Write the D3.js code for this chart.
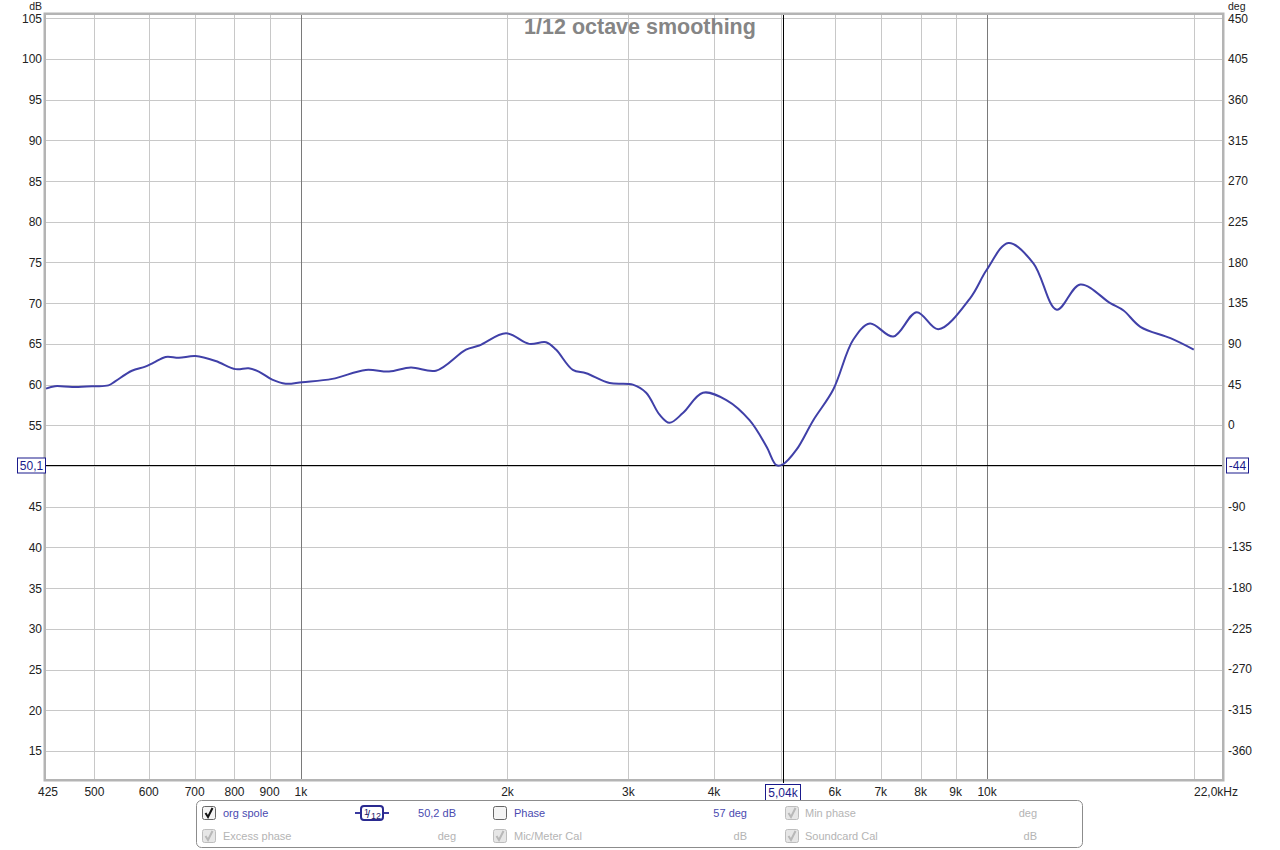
<!DOCTYPE html>
<html><head><meta charset="utf-8">
<script src="https://cdn.jsdelivr.net/npm/d3@7"></script>
<style>
html,body{margin:0;padding:0;background:#fff;}
svg{display:block;font-family:"Liberation Sans",Arial,sans-serif;}
</style></head>
<body><svg id="c" width="1280" height="850"></svg>
<script>
// ---- data ----
const freqs = [425,438,464,496,524,536,567,593,610,635,664,702,751,803,839,868,908,950,1004,1111,1243,1344,1446,1573,1740,1819,1990,2151,2276,2353,2490,2604,2817,3046,3185,3332,3444,3603,3853,4169,4509,4769,4932,5040,5275,5579,5968,6381,6750,7300,7897,8489,9446,9989,10742,11683,12637,13670,15120,15810,16727,18503,20010];
const dbs   = [59.5,59.8,59.7,59.8,59.9,60.4,61.7,62.2,62.7,63.4,63.3,63.5,62.9,61.9,62.0,61.6,60.6,60.1,60.3,60.7,61.8,61.6,62.1,61.7,64.3,64.8,66.3,65.0,65.2,64.3,61.8,61.4,60.2,60.0,59.0,56.3,55.3,56.5,59.0,58.1,55.6,52.4,50.1,50.2,52.0,55.6,59.4,65.5,67.5,65.9,68.9,66.8,70.6,74.1,77.4,74.9,69.2,72.3,70.0,69.1,67.1,65.7,64.3];
const xGrid = [500,600,700,800,900,1000,2000,3000,4000,5000,6000,7000,8000,9000,10000,20000];
const xMajor = [1000,10000];
const xTickVals = [425,500,600,700,800,900,1000,2000,3000,4000,6000,7000,8000,9000,10000];
const xTickLabels = ["425","500","600","700","800","900","1k","2k","3k","4k","6k","7k","8k","9k","10k"];
const dbTicks = [15,20,25,30,35,40,45,50,55,60,65,70,75,80,85,90,95,100,105];
const degTicks = [-360,-315,-270,-225,-180,-135,-90,-44,0,45,90,135,180,225,270,315,360,405,450];
const xDomain = [425,22000];
const cursorFreq = 5040, cursorDb = 50.1;
const title = "1/12 octave smoothing";

// ---- layout ----
const L=46, R=1222, T=15, B=779;
const svg = d3.select("#c");
const x = d3.scaleLog().domain(xDomain).range([L,R]);
const y = d3.scaleLinear().domain([11.55,105.4]).range([B,T]);
const yDeg = d3.scaleLinear().domain([-391.95,453.6]).range([B,T]); // deg = (dB-55)*9

// frame shadow
svg.append("rect").attr("x",L-1).attr("y",T-1).attr("width",R-L+2).attr("height",B-T+2)
  .attr("fill","#fff").attr("stroke","#b4b4b4").attr("stroke-width",3);
svg.append("rect").attr("x",L).attr("y",T).attr("width",R-L).attr("height",B-T).attr("fill","#fff");

// grid
const g = svg.append("g");
g.selectAll("line.h").data(dbTicks).join("line")
  .attr("x1",L).attr("x2",R).attr("y1",d=>Math.round(y(d))+0.5).attr("y2",d=>Math.round(y(d))+0.5)
  .attr("stroke","#c8c8c8").attr("stroke-width",1);
g.selectAll("line.v").data(xGrid).join("line")
  .attr("y1",T).attr("y2",B).attr("x1",d=>Math.round(x(d))+0.5).attr("x2",d=>Math.round(x(d))+0.5)
  .attr("stroke",d=>xMajor.includes(d)?"#7a7a7a":"#c8c8c8").attr("stroke-width",1);

// title
svg.append("text").attr("x",640).attr("y",34).attr("text-anchor","middle")
  .attr("font-size",21.5).attr("font-weight","bold").attr("fill","#858585").text(title);

// axis labels
const fs=12;
svg.append("text").attr("x",42).attr("y",9.6).attr("text-anchor","end").attr("font-size",10.5).attr("fill","#222").text("dB");
svg.append("text").attr("x",1228).attr("y",9.6).attr("font-size",10.5).attr("fill","#222").text("deg");
svg.append("g").selectAll("text").data(dbTicks.filter(d=>d!==50)).join("text")
  .attr("x",42).attr("y",d=>y(d)+4.5).attr("text-anchor","end").attr("font-size",fs).attr("fill","#222").text(d=>d);
svg.append("g").selectAll("text").data(degTicks.filter(d=>d!==-44)).join("text")
  .attr("x",1228).attr("y",d=>yDeg(d)+4.5).attr("font-size",fs).attr("fill","#222").text(d=>d);
svg.append("g").selectAll("text").data(xTickVals).join("text")
  .attr("x",(d,i)=> i===0 ? 38 : x(d)).attr("y",796).attr("text-anchor",(d,i)=>i===0?"start":"middle")
  .attr("font-size",fs).attr("fill","#222").text((d,i)=>xTickLabels[i]);
svg.append("text").attr("x",1238).attr("y",796).attr("text-anchor","end").attr("font-size",fs).attr("fill","#222").text("22,0kHz");

// cursor lines
const cx = Math.round(x(cursorFreq))+0.5, cy = Math.round(y(cursorDb))+0.5;
svg.append("line").attr("x1",L).attr("x2",R).attr("y1",cy).attr("y2",cy).attr("stroke","#000");
svg.append("line").attr("x1",cx).attr("x2",cx).attr("y1",T).attr("y2",B+4).attr("stroke","#000");

// curve
const line = d3.line().x((d,i)=>x(freqs[i])).y(d=>y(d)).curve(d3.curveCatmullRom.alpha(0.5));
svg.append("path").attr("d",line(dbs)).attr("fill","none").attr("stroke","#4040a8").attr("stroke-width",2)
  .attr("stroke-linejoin","round");

// cursor value boxes
function box(xc,yc,w,h,txt){
  const gg=svg.append("g");
  gg.append("rect").attr("x",xc).attr("y",yc).attr("width",w).attr("height",h).attr("fill","#fff").attr("stroke","#1a1a8c").attr("stroke-width",1);
  gg.append("text").attr("x",xc+w/2).attr("y",yc+h-3.5).attr("text-anchor","middle").attr("font-size",fs).attr("fill","#1a1a8c").text(txt);
}
box(17.5,cy-7.5,28,15,"50,1");
box(1226.5,cy-7.5,22,15,"-44");
box(cx-18,784.5,35,16,"5,04k");

// legend
const lg = svg.append("g");
lg.append("rect").attr("x",196.5).attr("y",800.5).attr("width",886).attr("height",47).attr("rx",5)
  .attr("fill","#fff").attr("stroke","#8c8c8c");
function checkbox(xc,yc,checked,active){
  const c=lg.append("g");
  c.append("rect").attr("x",xc+0.5).attr("y",yc-6.5).attr("width",13).attr("height",13).attr("rx",2)
    .attr("fill",active?"#f4f4f4":"#e6e6e6").attr("stroke",active?"#666":"#bdbdbd");
  if(checked) c.append("path").attr("d",`M${xc+3.5},${yc} L${xc+6},${yc+4} L${xc+10.5},${yc-5}`)
    .attr("fill","none").attr("stroke",active?"#111":"#b8b8b8").attr("stroke-width",2);
}
function ltext(xc,yc,t,col,anchor){
  lg.append("text").attr("x",xc).attr("y",yc+4).attr("font-size",11).attr("fill",col).attr("text-anchor",anchor||"start").text(t);
}
const blue="#4a4ab0", grey="#b4b4b4";
const r1=813, r2=836;
checkbox(202,r1,true,true); ltext(223,r1,"org spole",blue);
// smoothing icon
lg.append("line").attr("x1",355).attr("x2",389).attr("y1",r1).attr("y2",r1).attr("stroke","#3a3aa0").attr("stroke-width",2);
lg.append("rect").attr("x",361).attr("y",r1-7).attr("width",22).attr("height",14).attr("rx",3).attr("fill","#fff").attr("stroke","#2a2a90").attr("stroke-width",2);
lg.append("text").attr("x",364).attr("y",r1+2).attr("font-size",9).attr("fill","#1a1a6a").text("1");
lg.append("text").attr("x",367).attr("y",r1+5).attr("font-size",11).attr("fill","#1a1a6a").text("/");
lg.append("text").attr("x",371).attr("y",r1+6).attr("font-size",9).attr("fill","#1a1a6a").text("12");
ltext(456,r1,"50,2 dB",blue,"end");
checkbox(493,r1,false,true); ltext(514,r1,"Phase",blue);
ltext(747,r1,"57 deg",blue,"end");
checkbox(785,r1,true,false); ltext(805,r1,"Min phase",grey);
ltext(1037,r1,"deg",grey,"end");
checkbox(202,r2,true,false); ltext(223,r2,"Excess phase",grey);
ltext(456,r2,"deg",grey,"end");
checkbox(493,r2,true,false); ltext(514,r2,"Mic/Meter Cal",grey);
ltext(747,r2,"dB",grey,"end");
checkbox(785,r2,true,false); ltext(805,r2,"Soundcard Cal",grey);
ltext(1037,r2,"dB",grey,"end");
</script></body></html>
